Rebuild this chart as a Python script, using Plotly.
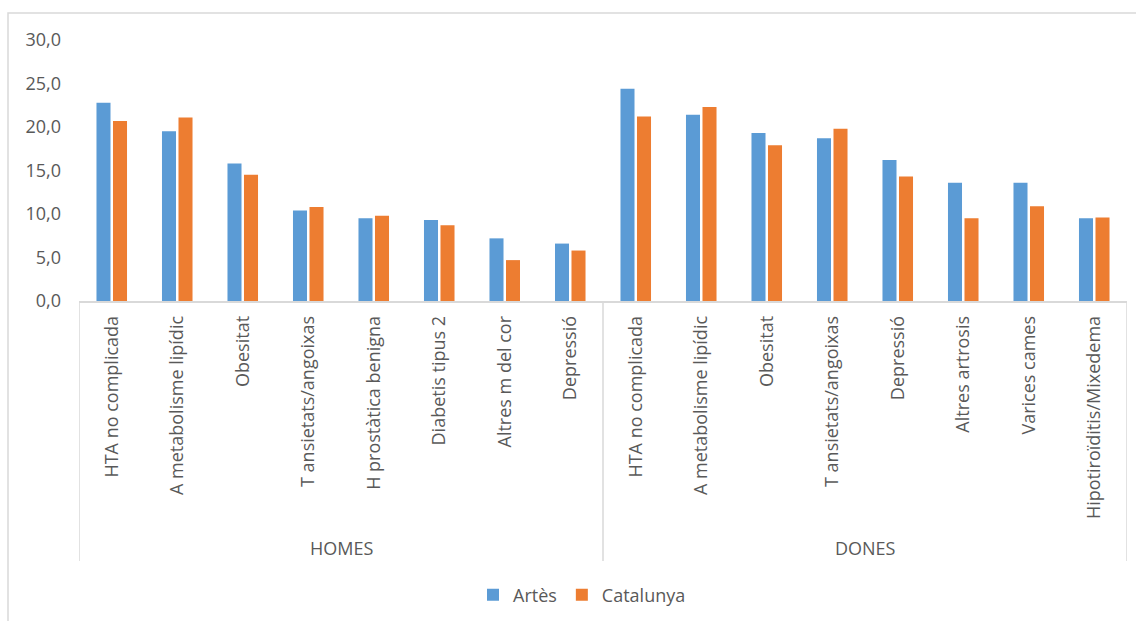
import plotly.graph_objects as go

# Prevalença (%) dels problemes de salut més freqüents, per sexe
groups = ["HOMES", "DONES"]
homes_labels = [
    "HTA no complicada", "A metabolisme lipídic", "Obesitat",
    "T ansietats/angoixas", "H prostàtica benigna", "Diabetis tipus 2",
    "Altres m del cor", "Depressió",
]
dones_labels = [
    "HTA no complicada", "A metabolisme lipídic", "Obesitat",
    "T ansietats/angoixas", "Depressió", "Altres artrosis",
    "Varices cames", "Hipotiroïditis/Mixedema",
]
artes_homes = [22.8, 19.5, 15.8, 10.4, 9.5, 9.3, 7.2, 6.6]
catalunya_homes = [20.7, 21.1, 14.5, 10.8, 9.8, 8.7, 4.7, 5.8]
artes_dones = [24.4, 21.4, 19.3, 18.7, 16.2, 13.6, 13.6, 9.5]
catalunya_dones = [21.2, 22.3, 17.9, 19.8, 14.3, 9.5, 10.9, 9.6]
y_ticks = [0, 5, 10, 15, 20, 25, 30]

labels = homes_labels + dones_labels
pos = list(range(len(labels)))
artes = artes_homes + artes_dones
catalunya = catalunya_homes + catalunya_dones

BLUE = "#5B9BD5"
ORANGE = "#ED7D31"
TEXT = "#595959"
LINE = "#D9D9D9"
FONT = "Open Sans"

W, H = 1136, 621
L, R, T, B = 79, 9, 40, 319
plot_w = W - L - R
plot_h = H - T - B

fig = go.Figure()
fig.add_bar(x=pos, y=artes, name="Artès", marker=dict(color=BLUE, line=dict(width=0)))
fig.add_bar(x=pos, y=catalunya, name="Catalunya", marker=dict(color=ORANGE, line=dict(width=0)))

def py(px):
    # pixel row -> paper y
    return (H - B - px) / plot_h

def px_x(px):
    # pixel column -> paper x
    return (px - L) / plot_w

# category group separators below the axis
n_h = len(homes_labels)
for xv in [-0.5, n_h - 0.5, len(labels) - 0.5]:
    fig.add_shape(type="line", xref="x", yref="paper", x0=xv, x1=xv,
                  y0=0, y1=py(563), line=dict(color=LINE, width=1.5))

# group labels
centers = [(n_h - 1) / 2, n_h + (len(dones_labels) - 1) / 2]
for g, c in zip(groups, centers):
    fig.add_annotation(x=c, xref="x", y=py(550), yref="paper", text=g,
                       showarrow=False, font=dict(family=FONT, size=18, color=TEXT),
                       xanchor="center", yanchor="middle")

# outer chart frame
fig.add_shape(type="rect", xref="paper", yref="paper",
              x0=px_x(8), x1=px_x(1140), y0=py(13), y1=py(625),
              line=dict(color=LINE, width=1.5), fillcolor="rgba(0,0,0,0)", layer="below")

fig.update_layout(
    width=W, height=H,
    margin=dict(l=L, r=R, t=T, b=B, pad=0),
    paper_bgcolor="white", plot_bgcolor="white",
    barmode="group", bargap=0.496, bargroupgap=0.15,
    separators=", ",
    font=dict(family=FONT, color=TEXT, size=18),
    showlegend=True,
    legend=dict(orientation="h", x=px_x(582), xanchor="center", y=py(595), yanchor="middle",
                font=dict(family=FONT, size=18, color=TEXT), itemwidth=30,
                traceorder="normal"),
)
fig.update_xaxes(
    range=[-0.5, len(labels) - 0.5], tickvals=pos, ticktext=labels,
    tickangle=-90, showline=True, linecolor=LINE, linewidth=1.5,
    showgrid=False, zeroline=False, ticks="",
    tickfont=dict(family=FONT, size=18, color=TEXT), ticklabelstandoff=6,
)
fig.update_yaxes(
    range=[0, 30], tickvals=y_ticks, tickformat=".1f",
    showgrid=False, zeroline=False, showline=False, ticks="",
    tickfont=dict(family=FONT, size=18, color=TEXT), ticklabelstandoff=17,
)

fig.write_html("out.html")
